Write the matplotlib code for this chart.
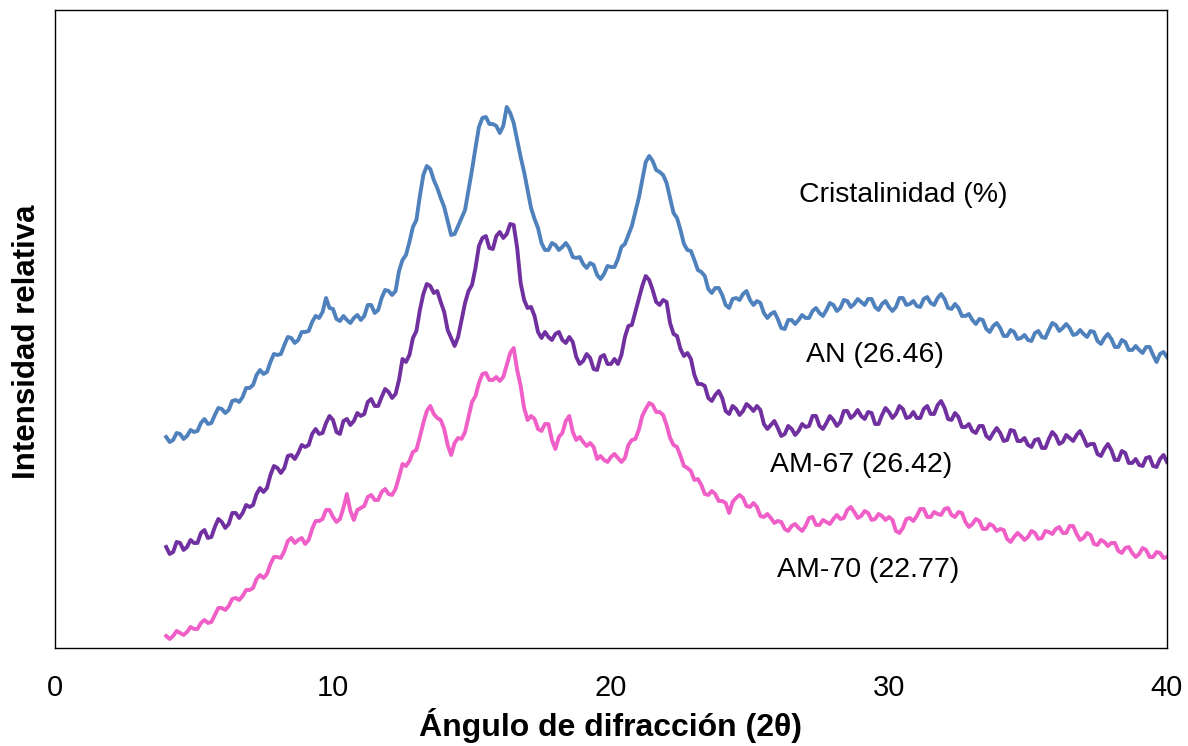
import numpy as np
import matplotlib
matplotlib.use("Agg")
import matplotlib.pyplot as plt

plt.rcParams['font.family'] = ['Liberation Sans', 'DejaVu Sans']

# angulo 2theta, paso de 0.125 grados de 4 a 40 (8 puntos por grado)
two_theta = np.arange(4.0, 40.0001, 0.125)

# intensidades relativas (unidades arbitrarias, curvas desplazadas)
an = [211, 206, 208, 215, 214, 209, 212, 218,
      216, 217, 225, 229, 224, 225, 233, 240,
      239, 235, 238, 247, 248, 246, 251, 260,
      260, 263, 273, 278, 274, 276, 286, 294,
      293, 294, 303, 311, 310, 305, 308, 316,
      316, 317, 326, 332, 330, 336, 350, 340,
      339, 329, 327, 332, 328, 325, 330, 333,
      328, 332, 343, 343, 335, 338, 350, 358,
      357, 353, 357, 377, 388, 393, 406, 421,
      428, 452, 473, 482, 479, 468, 460, 450,
      441, 427, 413, 414, 422, 430, 438, 458,
      478, 500, 521, 530, 531, 524, 524, 522,
      515, 522, 541, 535, 525, 508, 491, 476,
      458, 440, 429, 420, 405, 398, 398, 405,
      403, 398, 401, 405, 400, 391, 390, 391,
      384, 380, 385, 383, 373, 369, 374, 382,
      381, 381, 389, 401, 404, 413, 422, 436,
      450, 468, 486, 492, 487, 478, 476, 473,
      465, 450, 435, 430, 418, 404, 398, 397,
      388, 378, 376, 372, 359, 355, 360, 360,
      353, 343, 340, 349, 350, 348, 354, 357,
      348, 343, 347, 345, 335, 330, 334, 336,
      329, 320, 319, 328, 328, 324, 328, 333,
      330, 330, 337, 340, 335, 332, 338, 345,
      343, 337, 340, 348, 347, 341, 344, 349,
      346, 343, 349, 349, 341, 338, 344, 347,
      341, 337, 341, 350, 350, 343, 344, 347,
      342, 341, 349, 351, 345, 343, 350, 354,
      349, 340, 339, 344, 340, 332, 332, 334,
      328, 324, 329, 328, 319, 316, 322, 325,
      320, 312, 312, 318, 316, 309, 310, 313,
      308, 307, 315, 317, 311, 310, 318, 325,
      323, 317, 320, 324, 320, 313, 314, 318,
      314, 311, 317, 316, 307, 304, 310, 314,
      309, 301, 301, 308, 306, 298, 298, 302,
      298, 295, 301, 301, 293, 286, 294, 296,
      291]

am67 = [101, 94, 96, 106, 105, 98, 101, 108,
        105, 105, 115, 118, 110, 111, 121, 129,
        126, 120, 124, 135, 135, 130, 135, 143,
        141, 143, 154, 160, 156, 160, 173, 182,
        180, 175, 180, 192, 193, 189, 195, 203,
        201, 203, 214, 219, 214, 215, 225, 232,
        228, 216, 214, 227, 229, 223, 227, 235,
        232, 234, 246, 249, 242, 242, 251, 259,
        256, 250, 254, 268, 289, 286, 293, 310,
        317, 338, 354, 364, 362, 355, 357, 346,
        336, 318, 310, 302, 311, 328, 345, 357,
        363, 380, 402, 410, 412, 400, 399, 412,
        416, 410, 414, 424, 423, 400, 365, 348,
        340, 341, 332, 316, 310, 316, 311, 308,
        314, 316, 308, 305, 311, 306, 291, 284,
        287, 294, 290, 279, 278, 291, 293, 284,
        284, 289, 284, 293, 311, 322, 323, 336,
        349, 362, 372, 368, 358, 346, 343, 348,
        346, 325, 314, 312, 299, 292, 295, 289,
        273, 264, 264, 262, 250, 247, 253, 257,
        250, 237, 234, 242, 239, 233, 237, 244,
        241, 237, 242, 238, 224, 219, 223, 227,
        220, 212, 214, 222, 219, 213, 217, 224,
        221, 222, 232, 232, 222, 219, 225, 232,
        228, 222, 226, 237, 237, 230, 233, 238,
        232, 229, 236, 235, 224, 224, 233, 240,
        236, 230, 234, 242, 239, 230, 231, 236,
        230, 230, 239, 242, 234, 234, 243, 247,
        240, 229, 228, 235, 231, 221, 221, 224,
        217, 215, 222, 222, 212, 209, 215, 220,
        215, 207, 208, 218, 217, 207, 207, 210,
        203, 201, 208, 209, 200, 200, 209, 216,
        212, 204, 206, 213, 210, 207, 213, 217,
        210, 202, 204, 204, 194, 192, 199, 204,
        198, 188, 188, 197, 195, 185, 185, 189,
        183, 182, 190, 191, 182, 181, 189, 193,
        186]

am70 = [12, 9, 12, 17, 15, 13, 16, 21,
        19, 19, 25, 28, 25, 26, 33, 40,
        40, 38, 42, 49, 50, 48, 52, 58,
        58, 60, 69, 73, 70, 74, 84, 91,
        91, 90, 97, 107, 110, 105, 108, 110,
        104, 108, 119, 127, 127, 129, 138, 138,
        131, 126, 129, 140, 154, 137, 128, 138,
        140, 142, 151, 153, 148, 148, 156, 159,
        154, 153, 159, 171, 184, 182, 187, 196,
        198, 211, 225, 237, 242, 234, 230, 228,
        219, 203, 193, 205, 210, 209, 216, 231,
        246, 252, 265, 274, 275, 268, 268, 271,
        267, 271, 283, 295, 300, 278, 262, 240,
        228, 232, 229, 219, 217, 224, 224, 208,
        199, 211, 215, 227, 232, 216, 208, 211,
        206, 202, 205, 201, 189, 192, 188, 186,
        191, 194, 190, 186, 190, 203, 208, 209,
        218, 232, 239, 245, 243, 236, 236, 233,
        223, 210, 203, 201, 192, 182, 180, 177,
        168, 169, 163, 154, 153, 157, 154, 147,
        147, 145, 135, 146, 150, 153, 150, 142,
        141, 145, 141, 132, 131, 134, 130, 125,
        127, 126, 119, 117, 122, 124, 120, 117,
        122, 130, 131, 123, 123, 128, 126, 124,
        129, 133, 129, 130, 138, 141, 136, 130,
        132, 137, 135, 128, 129, 134, 132, 128,
        131, 128, 117, 115, 120, 129, 130, 127,
        132, 139, 139, 131, 131, 136, 134, 133,
        139, 140, 133, 131, 136, 135, 126, 121,
        124, 129, 127, 119, 119, 124, 122, 117,
        119, 118, 109, 106, 111, 115, 112, 108,
        111, 117, 115, 109, 110, 117, 116, 114,
        119, 121, 115, 115, 122, 122, 114, 108,
        110, 115, 113, 104, 103, 108, 106, 102,
        105, 105, 97, 95, 100, 101, 95, 91,
        94, 100, 98, 91, 91, 96, 95, 90,
        91]

series = [('AN', an, '#4F81BD'), ('AM-67', am67, '#7030A0'), ('AM-70', am70, '#EF5FC7')]

# etiquetas de cristalinidad: (texto, x, y)
labels = [('Cristalinidad (%)', 30.5, 453),
          ('AN (26.46)', 29.5, 293),
          ('AM-67 (26.42)', 29.0, 183),
          ('AM-70 (22.77)', 29.25, 78)]

fig = plt.figure(figsize=(11.88, 7.46), dpi=100)
ax = fig.add_axes([0.0463, 0.1314, 0.936, 0.8552])

for name, vals, col in series:
    ax.plot(two_theta, vals, color=col, linewidth=2.8, solid_joinstyle='round')

for txt, x, y in labels:
    ax.text(x, y, txt, fontsize=20.5, ha='center', va='center')

ax.set_xlim(0, 40)
ax.set_ylim(0, 638)
ax.set_xticks([0, 10, 20, 30, 40])
ax.set_yticks([])
ax.tick_params(axis='x', length=0, pad=19, labelsize=21)
for s in ax.spines.values():
    s.set_linewidth(1.0)

ax.set_xlabel('Ángulo de difracción (2θ)', fontsize=23, fontweight='bold', labelpad=4)
ax.set_ylabel('Intensidad relativa', fontsize=22.5, fontweight='bold')
ax.yaxis.set_label_coords(-0.012, 0.48)

fig.savefig('out.png', dpi=100)
